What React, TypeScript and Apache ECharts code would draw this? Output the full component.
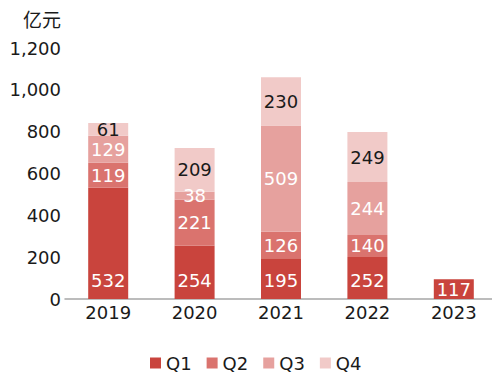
import React, { useEffect, useRef } from "react";
import * as echarts from "echarts";

const categories = ["2019", "2020", "2021", "2022", "2023"];
const seriesNames = ["Q1", "Q2", "Q3", "Q4"];
// bar heights as drawn in the picture (axis units)
const q1 = [532, 254, 195, 201, 94];
const q2 = [119, 221, 126, 105, null];
const q3 = [129, 38, 509, 253, null];
const q4 = [61, 209, 230, 239, null];
// values printed on the bars
const q1Labels = [532, 254, 195, 252, 117];
const q2Labels = [119, 221, 126, 140, null];
const q3Labels = [129, 38, 509, 244, null];
const q4Labels = [61, 209, 230, 249, null];
const yTicks = [0, 200, 400, 600, 800, 1000, 1200];
const unitLabel = "亿元";

const colors = ["#c9443d", "#da736e", "#e6a19e", "#f1cac8"];
const FONT = "DejaVu Sans";

export default function App() {
  const ref = useRef<HTMLDivElement>(null);
  useEffect(() => {
    if (!ref.current) return;
    const chart = echarts.init(ref.current, null, { renderer: "svg" });
    const all = [q1, q2, q3, q4];
    const labels = [q1Labels, q2Labels, q3Labels, q4Labels];
    const series = all.map((data, i) => ({
      name: seriesNames[i],
      type: "bar",
      stack: "total",
      barWidth: 40,
      data: data.map((v, j) => {
        if (v == null) return null;
        const item: any = { value: v, labelText: labels[i][j] };
        if (i === 0 && j < 4) {
          item.label = { position: "insideBottom", distance: 10 };
        }
        return item;
      }),
      itemStyle: { color: colors[i] },
      label: {
        show: true,
        position: "inside",
        color: i === 3 ? "#1a1a1a" : "#ffffff",
        fontSize: 18,
        fontFamily: FONT,
        formatter: (p: any) => String(labels[i][p.dataIndex]),
      },
    }));
    chart.setOption({
      animation: false,
      grid: { left: 65, right: 3, top: 48, bottom: 78, containLabel: false },
      graphic: [
        {
          type: "text",
          x: 61,
          y: 18,
          style: {
            text: unitLabel,
            fontSize: 19,
            fontFamily: "Noto Sans CJK SC",
            fill: "#1a1a1a",
            align: "right",
            verticalAlign: "middle",
          },
        },
      ],
      legend: {
        data: seriesNames,
        left: 148,
        top: 352,
        itemWidth: 11,
        itemHeight: 11,
        itemGap: 15,
        icon: "rect",
        padding: 2,
        textStyle: { fontSize: 18, fontFamily: FONT, color: "#1a1a1a" },
      },
      xAxis: {
        type: "category",
        data: categories,
        axisLine: { show: true, lineStyle: { color: "#a6a6a6", width: 1.5 } },
        axisTick: { show: false },
        axisLabel: { fontSize: 18, fontFamily: FONT, color: "#1a1a1a", margin: 4 },
      },
      yAxis: {
        type: "value",
        min: yTicks[0],
        max: yTicks[yTicks.length - 1],
        interval: 200,
        splitLine: { show: false },
        axisLine: { show: false },
        axisTick: { show: false },
        axisLabel: {
          fontSize: 18,
          fontFamily: FONT,
          color: "#1a1a1a",
          margin: 4,
          formatter: (v: number) => v.toLocaleString("en-US"),
        },
      },
      series,
    });
    return () => chart.dispose();
  }, []);
  return <div ref={ref} style={{ width: 500, height: 377, marginLeft: -8, marginTop: -8 }} />;
}
